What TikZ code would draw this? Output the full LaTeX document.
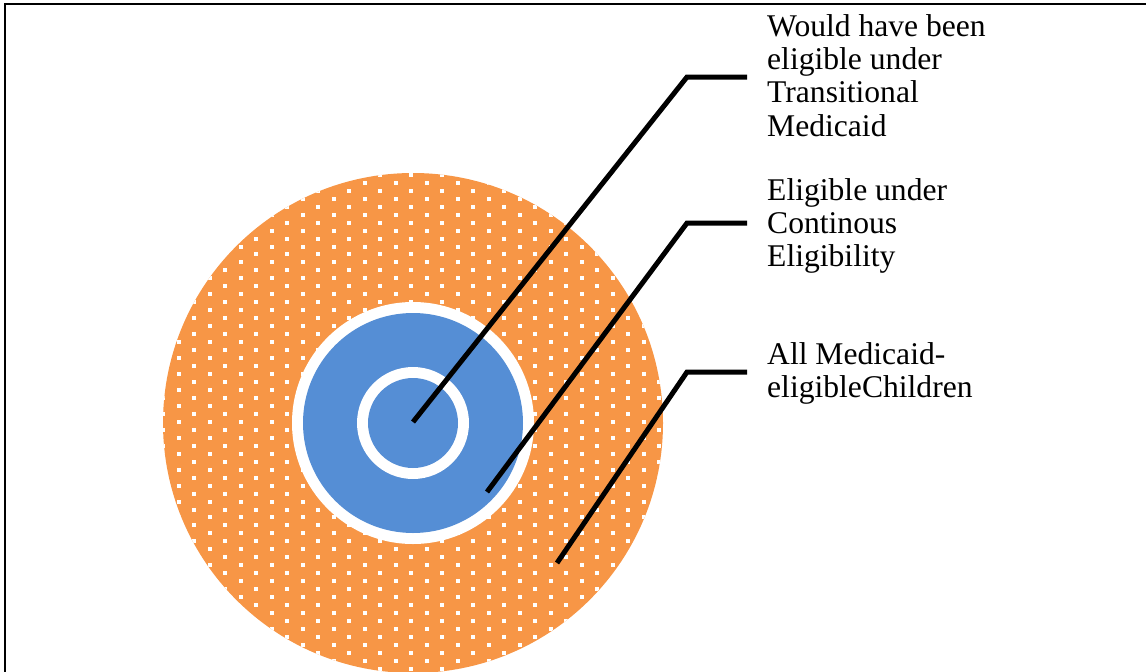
\documentclass[tikz,border=0pt]{standalone}
\usepackage{fontspec}
\setmainfont{Liberation Serif}
\definecolor{ringorange}{HTML}{F79646}
\definecolor{ringblue}{HTML}{558ED5}
\tikzset{
  leader/.style={line width=5pt, black},
  lbl/.style={anchor=base west, inner sep=0pt, font=\fontsize{31.6}{33.4}\selectfont},
  frameline/.style={line width=2.2pt, black}
}
\begin{document}
\begin{tikzpicture}[x=1pt,y=-1pt]
\useasboundingbox (0,0) rectangle (1146,672);
% frame (top and left edges visible)
\draw[frameline] (5,672) -- (5,3.8) -- (1146,3.8);
% outer dotted circle
\coordinate (c) at (413,423);
\fill[ringorange] (c) circle[radius=250];
\begin{scope}
  \clip (c) circle[radius=250];
  \foreach \j in {0,...,64} {
    \pgfmathsetmacro{\yy}{423-41+7.97*(\j-26)}
    \pgfmathsetmacro{\off}{15.5*mod(\j,2)}
    \foreach \i in {-1,...,16} {
      \pgfmathsetmacro{\xx}{194+31*\i+\off}
      \fill[white] (\xx-2,\yy-2) rectangle ++(4,4);
    }
  }
\end{scope}
% blue rings
\fill[white] (c) circle[radius=121];
\fill[ringblue] (c) circle[radius=110];
\fill[white] (c) circle[radius=56];
\fill[ringblue] (c) circle[radius=45];
% labels
\node[lbl] (t1) at (767,36) {\begin{tabular}[t]{@{}l@{}}Would have been\\eligible under\\Transitional\\Medicaid\end{tabular}};
\node[lbl] (t2) at (767,200) {\begin{tabular}[t]{@{}l@{}}Eligible under\\Continous\\Eligibility\end{tabular}};
\node[lbl] (t3) at (767,364) {\begin{tabular}[t]{@{}l@{}}All Medicaid-\\eligibleChildren\end{tabular}};
% leader coordinates
\coordinate (p1) at (413,422);
\coordinate (k1) at (687,77);
\coordinate (h1) at (747,77);
\coordinate (p2) at (487,492);
\coordinate (k2) at (687,223);
\coordinate (h2) at (747,223);
\coordinate (p3) at (557,563);
\coordinate (k3) at (687,372);
\coordinate (h3) at (747,372);
\draw[leader] (p1) -- (k1) -- (h1);
\draw[leader] (p2) -- (k2) -- (h2);
\draw[leader] (p3) -- (k3) -- (h3);
\end{tikzpicture}
\end{document}
